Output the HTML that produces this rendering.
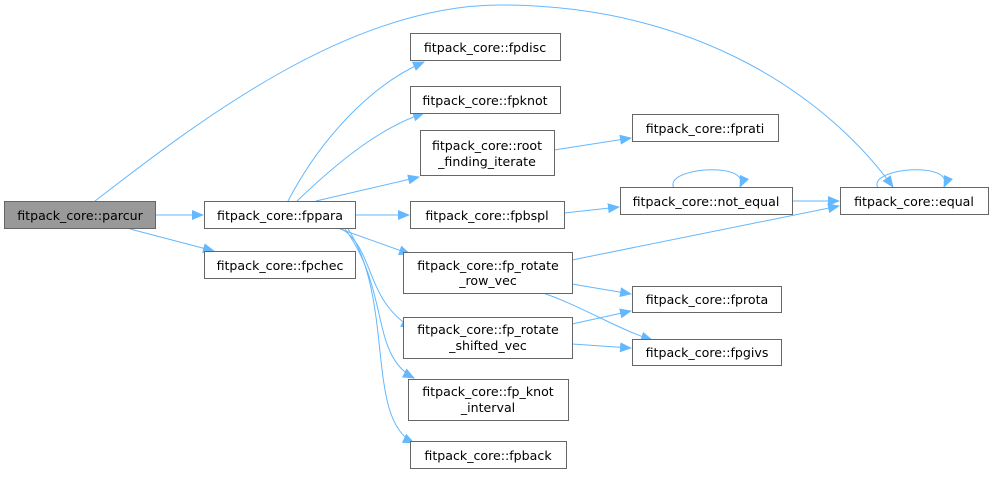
<!DOCTYPE html>
<html><head><meta charset="utf-8"><style>
body{margin:0;background:#fff;}
svg text{font-family:"DejaVu Sans","Liberation Sans",sans-serif;font-size:12.6px;fill:#000;}
</style></head><body>
<svg width="992" height="476" viewBox="0 0 992 476" xmlns="http://www.w3.org/2000/svg">
<defs><marker id="a" markerWidth="12" markerHeight="10" refX="11" refY="5" orient="auto" markerUnits="userSpaceOnUse"><path d="M0,0 L12,5 L0,10 z" fill="#63b8ff"/></marker></defs>
<g fill="none" stroke="#63b8ff" stroke-width="1" marker-end="url(#a)">
<path d="M95,201 C200,120 350,5 500,5 C700,5 830,100 893,187"/>
<path d="M156,215 L203,215"/>
<path d="M130,229 L214,251"/>
<path d="M288,201 C320,140 370,85 424,62"/>
<path d="M297,201 C340,160 380,128 424,113"/>
<path d="M316,201 L419,177"/>
<path d="M356,215 L409,215"/>
<path d="M340,229 L410,254"/>
<path d="M342,229 C375,250 365,300 412,328"/>
<path d="M345,229 C390,290 370,355 414,378"/>
<path d="M348,229 C395,300 365,420 414,443"/>
<path d="M554,150 L631,138"/>
<path d="M564,213 L619,207"/>
<path d="M792,201 L839,201"/>
<path d="M674,188 C662,168 752,160 740,187"/>
<path d="M878,188 C866,168 956,160 944,187"/>
<path d="M572,260 L839,206"/>
<path d="M572,284 L631,294"/>
<path d="M540,292 C580,305 615,328 652,340"/>
<path d="M572,324 L631,311"/>
<path d="M572,344 L631,348"/>
</g>
<g stroke="#666" stroke-width="1">
<rect x="4.5" y="201.5" width="151" height="27" fill="#999"/>
<rect x="204.5" y="201.5" width="151" height="27" fill="#fff"/>
<rect x="204.5" y="251.5" width="151" height="27" fill="#fff"/>
<rect x="410.5" y="33.5" width="150" height="27" fill="#fff"/>
<rect x="410.5" y="86.5" width="150" height="27" fill="#fff"/>
<rect x="420.5" y="130.5" width="134" height="45" fill="#fff"/>
<rect x="410.5" y="201.5" width="154" height="27" fill="#fff"/>
<rect x="403.5" y="252.5" width="169" height="41" fill="#fff"/>
<rect x="403.5" y="317.5" width="169" height="41" fill="#fff"/>
<rect x="408.5" y="379.5" width="160" height="41" fill="#fff"/>
<rect x="410.5" y="441.5" width="156" height="27" fill="#fff"/>
<rect x="632.5" y="114.5" width="146" height="27" fill="#fff"/>
<rect x="620.5" y="187.5" width="172" height="27" fill="#fff"/>
<rect x="840.5" y="187.5" width="148" height="27" fill="#fff"/>
<rect x="632.5" y="286.5" width="149" height="26" fill="#fff"/>
<rect x="632.5" y="339.5" width="149" height="26" fill="#fff"/>
</g>
<g text-anchor="middle">
<text x="80" y="220">fitpack_core::parcur</text>
<text x="280" y="220">fitpack_core::fppara</text>
<text x="280" y="270">fitpack_core::fpchec</text>
<text x="485" y="52">fitpack_core::fpdisc</text>
<text x="485" y="105">fitpack_core::fpknot</text>
<text x="487" y="150">fitpack_core::root</text>
<text x="487" y="166">_finding_iterate</text>
<text x="487" y="220">fitpack_core::fpbspl</text>
<text x="488" y="270">fitpack_core::fp_rotate</text>
<text x="488" y="285">_row_vec</text>
<text x="488" y="334">fitpack_core::fp_rotate</text>
<text x="488" y="350">_shifted_vec</text>
<text x="488" y="396">fitpack_core::fp_knot</text>
<text x="488" y="412">_interval</text>
<text x="488" y="460">fitpack_core::fpback</text>
<text x="705" y="133">fitpack_core::fprati</text>
<text x="706" y="206">fitpack_core::not_equal</text>
<text x="914" y="206">fitpack_core::equal</text>
<text x="707" y="304">fitpack_core::fprota</text>
<text x="707" y="357">fitpack_core::fpgivs</text>
</g>
</svg>
</body></html>
